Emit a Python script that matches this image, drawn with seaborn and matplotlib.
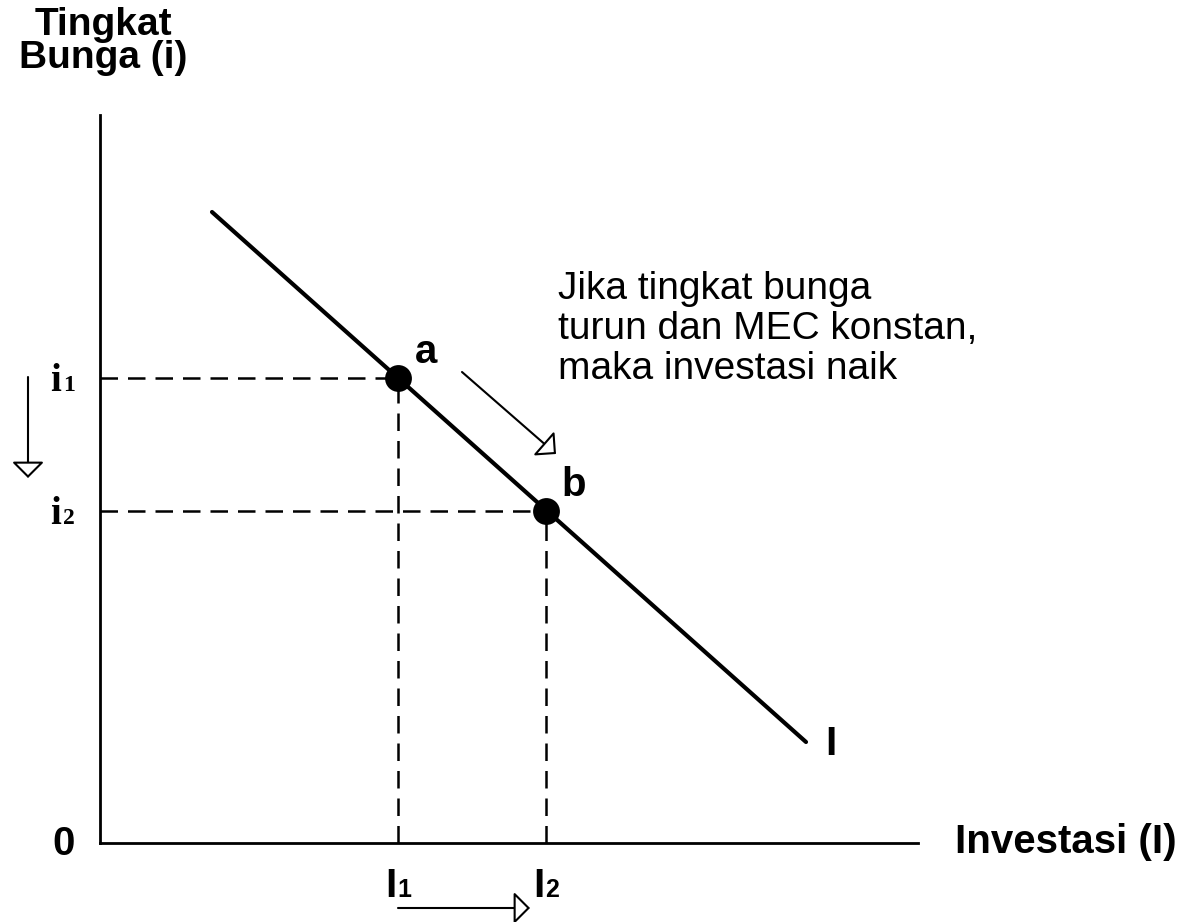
import matplotlib
matplotlib.use("Agg")
import matplotlib.pyplot as plt
import seaborn as sns
import pandas as pd

# ---------------- data (diagram units, origin at axis corner) ----------------
curve_x = [112, 706]          # investment demand line I
curve_y = [631, 101]
point_labels = ["a", "b"]
point_x = [298, 446]          # I1, I2
point_y = [465, 332]          # i1, i2
rate_main = ["i", "i"]
rate_sub = ["1", "2"]
inv_main = ["I", "I"]
inv_sub = ["1", "2"]
note_lines = ["Jika tingkat bunga", "turun dan MEC konstan,", "maka investasi naik"]
y_title = ["Tingkat", "Bunga (i)"]
x_title = "Investasi (I)"
curve_label = "I"
origin_label = "0"

sns.set_theme(style="white")
plt.rcParams["font.family"] = ["Liberation Sans", "DejaVu Sans"]
plt.rcParams["text.color"] = "black"

fig = plt.figure(figsize=(11.87, 9.22), dpi=100)
ax = fig.add_axes([0, 0, 1, 1])
ax.set_xlim(-100, 1087)
ax.set_ylim(-79, 843)
ax.set_xticks([])
ax.set_yticks([])
for s in ["top", "right"]:
    ax.spines[s].set_visible(False)
for s in ["left", "bottom"]:
    ax.spines[s].set_position(("data", 0))
    ax.spines[s].set_linewidth(2.0)
    ax.spines[s].set_color("black")
ax.spines["left"].set_bounds(0, 728)
ax.spines["bottom"].set_bounds(0, 818)

# demand line
curve_df = pd.DataFrame({"x": curve_x, "y": curve_y})
sns.lineplot(data=curve_df, x="x", y="y", ax=ax, color="black", lw=3.0,
             sort=False, estimator=None)

# dashed guides
dash = (0, (7, 4))
for px, py in zip(point_x, point_y):
    ax.plot([0, px], [py, py], color="black", lw=1.8, linestyle=dash)
    ax.plot([px, px], [0, py], color="black", lw=1.8, linestyle=dash)

# points
pts_df = pd.DataFrame({"x": point_x, "y": point_y, "lab": point_labels})
sns.scatterplot(data=pts_df, x="x", y="y", ax=ax, color="black", s=320,
                edgecolor="black", zorder=5, legend=False)
ax.set_xlabel("")
ax.set_ylabel("")

bold = dict(fontweight="bold", fontsize=29, color="black")
for lab, px, py in zip(point_labels, point_x, point_y):
    ax.text(px + 28, py + 15, lab, ha="center", va="baseline", **bold)

# rate labels (serif, with small digit)
for m, sub, py in zip(rate_main, rate_sub, point_y):
    ax.text(-50, py - 13, m, ha="left", va="baseline", family="Liberation Serif",
            fontweight="bold", fontsize=28, color="black")
    ax.text(-37, py - 13, sub, ha="left", va="baseline", family="Liberation Serif",
            fontweight="bold", fontsize=17, color="black")

# investment labels
for m, sub, px in zip(inv_main, inv_sub, point_x):
    ax.text(px - 13, -54, m, ha="left", va="baseline", **bold)
    ax.text(px - 1, -54, sub, ha="left", va="baseline", fontweight="bold",
            fontsize=18, color="black")

# titles
ax.text(3, 775, "\n".join(y_title), ha="center", va="baseline",
        multialignment="center", linespacing=0.88, fontweight="bold",
        fontsize=28, color="black")
ax.text(855, -10, x_title, ha="left", va="baseline", **bold)
ax.text(731, 88, curve_label, ha="center", va="baseline", **bold)
ax.text(-36, -12, origin_label, ha="center", va="baseline", **bold)

# note text
for i, line in enumerate(note_lines):
    ax.text(458, 544 - 40 * i, line, ha="left", va="baseline", fontsize=28,
            color="black")

# arrows
arr = dict(arrowstyle="-|>,head_length=0.5,head_width=0.5", mutation_scale=20,
           fc="white", ec="black", lw=1.5, shrinkA=0, shrinkB=0)
ax.annotate("", xy=(-72, 365), xytext=(-72, 466), arrowprops=arr)
ax.annotate("", xy=(430, -65), xytext=(298, -65), arrowprops=arr)
ax.annotate("", xy=(456, 389), xytext=(362, 471), arrowprops=arr)

fig.savefig("out.png", dpi=100, facecolor="white")
